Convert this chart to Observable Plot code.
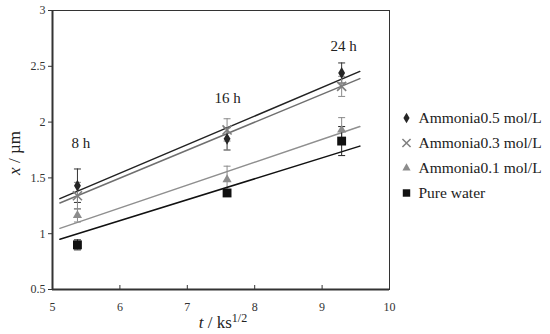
<!DOCTYPE html>
<html>
<head>
<meta charset="utf-8">
<script src="https://cdn.jsdelivr.net/npm/d3@7"></script>
<script src="https://cdn.jsdelivr.net/npm/@observablehq/plot@0.6"></script>
</head>
<body style="margin:0;background:#fff">
<div id="wrap" style="position:relative;width:550px;height:334px"><div id="chart"></div><div id="legend" style="position:absolute;left:396px;top:103px"></div></div>
<script>
// ---- data ----
const times = [5.37, 7.59, 9.29];               // t / ks^1/2 (8 h, 16 h, 24 h)
const timeLabels = ["8 h", "16 h", "24 h"];
const labelX = [5.42, 7.60, 9.32];
const labelY = [1.81, 2.21, 2.68];

const seriesNames = ["Ammonia0.5 mol/L", "Ammonia0.3 mol/L", "Ammonia0.1 mol/L", "Pure water"];
const amm05 = [1.43, 1.85, 2.44];
const amm05Err = [0.15, 0.10, 0.09];
const amm03 = [1.34, 1.93, 2.32];
const amm03Err = [0.12, 0.10, 0.09];
const amm01 = [1.165, 1.485, 1.93];
const amm01Err = [0.06, 0.12, 0.11];
const water = [0.90, 1.365, 1.83];
const waterErr = [0.045, 0.03, 0.13];

// fitted lines (end points)
const fitT = [5.11, 9.56];
const fit05 = [1.314, 2.454];
const fit03 = [1.275, 2.39];
const fit01 = [1.048, 1.96];
const fitW = [0.95, 1.785];

const xTicks = [5, 6, 7, 8, 9, 10];
const yTicks = [0.5, 1, 1.5, 2, 2.5, 3];

const FONT = "Liberation Serif";

// ---- build tables ----
const styles = {
  "Ammonia0.5 mol/L": {symbol: "diamond", fill: "#262626", stroke: "none", err: "#333", line: "#222", r: 3.6},
  "Ammonia0.3 mol/L": {symbol: "times", fill: "none", stroke: "#7f7f7f", err: "#8a8a8a", line: "#6f6f6f", r: 4.2},
  "Ammonia0.1 mol/L": {symbol: "triangle", fill: "#8c8c8c", stroke: "none", err: "#8a8a8a", line: "#8f8f8f", r: 3.4},
  "Pure water": {symbol: "square", fill: "#111", stroke: "none", err: "#222", line: "#111", r: 5.0}
};
const vals = [amm05, amm03, amm01, water];
const errs = [amm05Err, amm03Err, amm01Err, waterErr];
const fits = [fit05, fit03, fit01, fitW];

const points = [];
seriesNames.forEach((s, i) => times.forEach((t, j) => points.push({s, t, v: vals[i][j], e: errs[i][j]})));
const fitRows = [];
seriesNames.forEach((s, i) => fitT.forEach((t, j) => fitRows.push({s, t, v: fits[i][j]})));
const labels = timeLabels.map((l, i) => ({l, x: labelX[i], y: labelY[i]}));

const capSymbol = { draw(ctx, size) { const w = 3.5; ctx.moveTo(-w, 0); ctx.lineTo(w, 0); } };

const marks = [
  Plot.frame({stroke: "#333", strokeWidth: 1}),
  Plot.ruleX([5], {stroke: "#333", strokeWidth: 2}),
  Plot.ruleY([0.5], {stroke: "#333", strokeWidth: 2}),
  Plot.axisY(yTicks, {tickSize: 4, tickPadding: 3, tickFormat: d => String(d), fontSize: 12, fontFamily: FONT, fill: "#333", stroke: "#333", label: null}),
  Plot.axisX(xTicks, {tickSize: -4, tickPadding: 17, tickFormat: d => String(d), fontSize: 12, fontFamily: FONT, fill: "#333", stroke: "#333", label: null}),
];
seriesNames.forEach((s) => {
  const st = styles[s];
  const pts = points.filter(d => d.s === s);
  marks.push(Plot.line(fitRows.filter(d => d.s === s), {x: "t", y: "v", stroke: st.line, strokeWidth: 1.5}));
  marks.push(Plot.ruleX(pts, {x: "t", y1: d => d.v - d.e, y2: d => d.v + d.e, stroke: st.err, strokeWidth: 1}));
  marks.push(Plot.dot(pts, {x: "t", y: d => d.v + d.e, symbol: capSymbol, r: 3, stroke: st.err, strokeWidth: 1}));
  marks.push(Plot.dot(pts, {x: "t", y: d => d.v - d.e, symbol: capSymbol, r: 3, stroke: st.err, strokeWidth: 1}));
});
seriesNames.forEach((s) => {
  const st = styles[s];
  const pts = points.filter(d => d.s === s);
  marks.push(Plot.dot(pts, {x: "t", y: "v", symbol: st.symbol, r: st.r, fill: st.fill, stroke: st.stroke === "none" ? null : st.stroke, strokeWidth: 1.6}));
});
marks.push(Plot.text(labels, {x: "x", y: "y", text: "l", fontSize: 15, fontFamily: FONT, fill: "#222"}));

const chart = Plot.plot({
  width: 550, height: 334,
  marginLeft: 52, marginRight: 161, marginTop: 10, marginBottom: 45,
  style: {fontFamily: FONT},
  x: {domain: [5, 10]},
  y: {domain: [0.5, 3]},
  marks
});
document.getElementById("chart").appendChild(chart);

// axis titles as real SVG text
const svg = d3.select(chart);
const yl = svg.append("text")
  .attr("transform", "translate(20,153) rotate(-90)")
  .attr("text-anchor", "middle")
  .attr("font-size", 17).attr("fill", "#222")
  .attr("font-family", FONT);
yl.append("tspan").attr("font-style", "italic").text("x");
yl.append("tspan").text(" / \u00b5m");
const xl = svg.append("text")
  .attr("x", 223).attr("y", 328)
  .attr("text-anchor", "middle")
  .attr("font-size", 17).attr("fill", "#222")
  .attr("font-family", FONT);
xl.append("tspan").attr("font-style", "italic").text("t");
xl.append("tspan").text(" / ks");
xl.append("tspan").attr("font-size", 12).attr("dy", -6).text("1/2");

// legend
const legend = Plot.plot({
  width: 154, height: 103, margin: 0,
  style: {fontFamily: FONT, overflow: "visible"},
  x: {axis: null, domain: [0, 1]},
  y: {axis: null, domain: seriesNames, type: "band", padding: 0},
  marks: [
    ...seriesNames.map(s => Plot.dot([s], {y: d => d, frameAnchor: "left", dx: 10, symbol: styles[s].symbol,
      r: styles[s].symbol === "square" ? 4.2 : styles[s].r * 0.9, fill: styles[s].fill,
      stroke: styles[s].stroke === "none" ? null : styles[s].stroke, strokeWidth: 1.5})),
    Plot.text(seriesNames, {y: d => d, text: d => d, frameAnchor: "left", dx: 22, textAnchor: "start", fontSize: 15.5, fontFamily: FONT, fill: "#222"})
  ]
});
document.getElementById("legend").appendChild(legend);
</script>
</body>
</html>
